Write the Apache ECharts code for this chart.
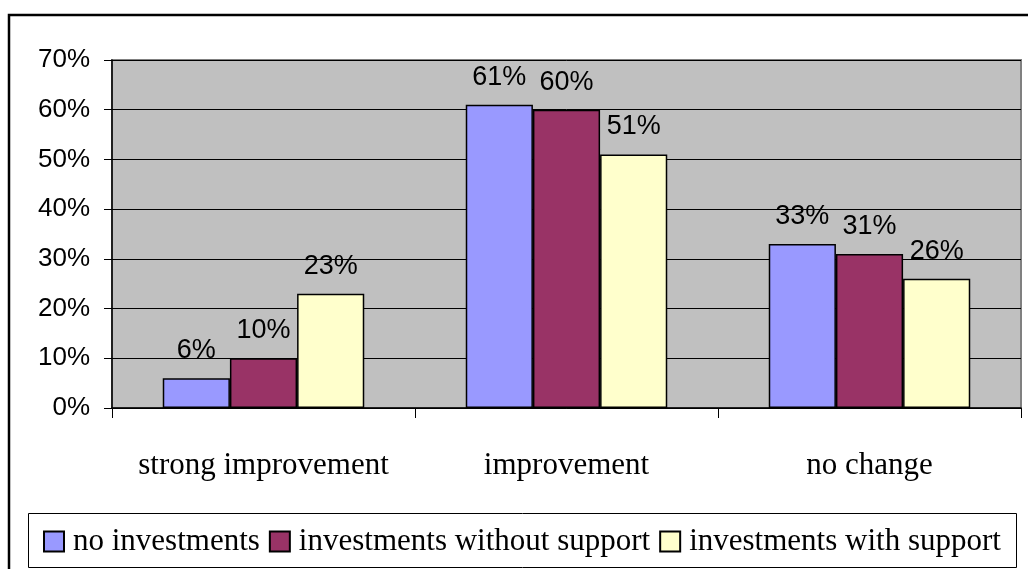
<!DOCTYPE html>
<html>
<head>
<meta charset="utf-8">
<script src="https://cdn.jsdelivr.net/npm/echarts@6/dist/echarts.min.js"></script>
<style>
  html, body { margin: 0; padding: 0; background: #fff; }
  #main { width: 1028px; height: 569px; }
</style>
</head>
<body>
<div id="main"></div>
<script>
var categories = ['strong improvement', 'improvement', 'no change'];
var seriesNames = ['no investments', 'investments without support', 'investments with support'];
var noInvest = [6, 61, 33];
var investNoSupport = [10, 60, 31];
var investSupport = [23, 51, 26];
var barColors = ['#9999FF', '#993366', '#FFFFCC'];

var chartDom = document.getElementById('main');
var myChart = echarts.init(chartDom);

function makeSeries(name, data, color) {
    return {
        name: name,
        type: 'bar',
        data: data,
        barGap: '0%',
        barCategoryGap: '33.5%',
        itemStyle: {
            color: color,
            borderColor: '#000',
            borderWidth: 1.5
        },
        label: {
            show: true,
            position: 'top',
            distance: 14,
            formatter: '{c}%',
            fontFamily: 'Liberation Sans',
            fontSize: 27,
            color: '#000'
        }
    };
}

var option = {
    animation: false,
    backgroundColor: '#fff',
    graphic: [
        {
            type: 'rect',
            shape: { x: 9, y: 15, width: 1040, height: 580 },
            style: { fill: null, stroke: '#000', lineWidth: 2.5 },
            z: -1
        },
        {
            type: 'rect',
            shape: { x: 28.5, y: 513.5, width: 988, height: 54 },
            style: { fill: '#fff', stroke: '#000', lineWidth: 1 },
            z: -1
        }
    ],
    grid: {
        left: 112,
        right: 7,
        top: 60,
        bottom: 161,
        show: true,
        backgroundColor: '#C0C0C0',
        borderColor: '#808080',
        borderWidth: 2
    },
    legend: {
        left: 38,
        top: 521,
        itemWidth: 20,
        itemHeight: 20,
        itemGap: 9,
        icon: 'rect',
        itemStyle: { borderColor: '#000', borderWidth: 2 },
        textStyle: {
            fontFamily: 'Liberation Serif',
            fontSize: 31,
            color: '#000',
            padding: [0, 0, 0, 4]
        },
        data: seriesNames
    },
    xAxis: {
        type: 'category',
        data: categories,
        axisLine: { lineStyle: { color: '#000', width: 1.5 } },
        axisTick: { show: true, interval: 0, length: 10, lineStyle: { color: '#000' } },
        axisLabel: {
            interval: 0,
            hideOverlap: false,
            margin: 42,
            fontFamily: 'Liberation Serif',
            fontSize: 31,
            color: '#000'
        }
    },
    yAxis: {
        type: 'value',
        min: 0,
        max: 70,
        interval: 10,
        axisLine: { show: true, lineStyle: { color: '#000', width: 1.5 } },
        axisTick: { show: true, length: 8, lineStyle: { color: '#000' } },
        splitLine: { show: true, lineStyle: { color: '#000', width: 1 } },
        axisLabel: {
            formatter: '{value}%',
            margin: 22,
            fontFamily: 'Liberation Sans',
            fontSize: 26,
            color: '#000'
        }
    },
    series: [
        makeSeries(seriesNames[0], noInvest, barColors[0]),
        makeSeries(seriesNames[1], investNoSupport, barColors[1]),
        makeSeries(seriesNames[2], investSupport, barColors[2])
    ]
};

option && myChart.setOption(option);
</script>
</body>
</html>
